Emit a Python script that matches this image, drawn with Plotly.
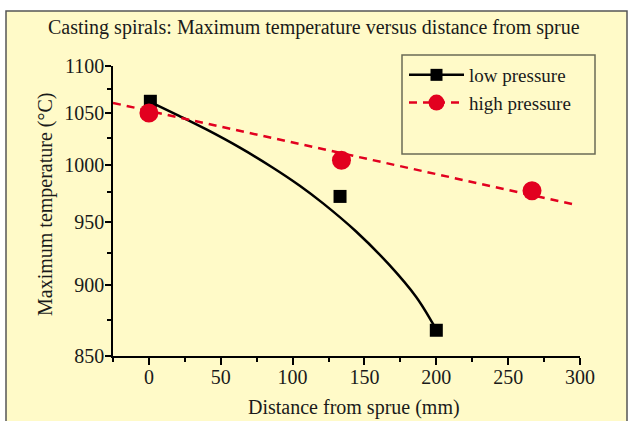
import plotly.graph_objects as go

# ---- data ----
low_x = [1, 133, 200]
low_T = [1062, 971.5, 867.5]
high_x = [0, 134, 266.6]
high_T = [1050, 1004, 976.5]

# fitted curve for low pressure
low_fit_x = [0, 21, 40, 63, 86, 105, 121, 144, 167, 186, 197, 200]
low_fit_T = [1062.0, 1047.1, 1033.5, 1016.1, 997.4, 980.9, 965.7, 942.1, 915.7, 891.2, 873.2, 867.8]
# fitted straight line for high pressure
high_fit_x = [-25, 295]
high_fit_T = [1060.3, 964.8]

y_major = [850, 900, 950, 1000, 1050, 1100]
y_minor = [875, 925, 975, 1025, 1075]
x_major = [0, 50, 100, 150, 200, 250, 300]
x_minor = [-25, 25, 75, 125, 175, 225, 275]

def ry(T):
    # reciprocal temperature scale of the original axis
    return [1000.0 / t for t in T]

RED = "#E2001F"
BG = "rgb(255,250,200)"
FONT = "Liberation Serif"
TXT = "#1a1a1a"
FS = 20

fig = go.Figure()
fig.add_trace(go.Scatter(x=low_fit_x, y=ry(low_fit_T), mode="lines", line=dict(color="black", width=2.5, shape="spline"),
                         showlegend=False, hoverinfo="skip"))
fig.add_trace(go.Scatter(x=high_fit_x, y=ry(high_fit_T), mode="lines", line=dict(color=RED, width=2.5, dash="8px,6px"),
                         showlegend=False, hoverinfo="skip"))
fig.add_trace(go.Scatter(x=low_x, y=ry(low_T), mode="markers", marker=dict(symbol="square", size=13, color="black"),
                         showlegend=False))
fig.add_trace(go.Scatter(x=high_x, y=ry(high_T), mode="markers", marker=dict(symbol="circle", size=19, color=RED),
                         showlegend=False))
# legend entries
fig.add_trace(go.Scatter(x=[None], y=[None], mode="lines+markers", name="low pressure",
                         line=dict(color="black", width=2.5), marker=dict(symbol="square", size=12, color="black")))
fig.add_trace(go.Scatter(x=[None], y=[None], mode="lines+markers", name="high pressure",
                         line=dict(color=RED, width=2.5, dash="8px,6px"), marker=dict(symbol="circle", size=16, color=RED)))

L, R, T, B = 113, 50, 66, 65
W, H = 630, 421
pw, ph = W - L - R, H - T - B

def px(xp):
    return (xp - L) / pw

def py(yp):
    return (H - B - yp) / ph

fig.update_layout(
    width=W, height=H,
    margin=dict(l=L, r=R, t=T, b=B),
    paper_bgcolor="white", plot_bgcolor="rgba(0,0,0,0)",
    font=dict(family=FONT, size=FS, color=TXT),
    showlegend=True,
    legend=dict(x=px(404), y=py(56), xanchor="left", yanchor="top", bgcolor="rgba(0,0,0,0)",
                borderwidth=0, font=dict(family=FONT, size=19, color=TXT), itemwidth=55,
                tracegroupgap=0),
    shapes=[
        dict(type="rect", xref="paper", yref="paper", x0=px(6), x1=px(627), y0=py(440), y1=py(11),
             fillcolor=BG, line=dict(color="#555555", width=1.5), layer="below"),
        dict(type="rect", xref="paper", yref="paper", x0=px(402), x1=px(595), y0=py(154), y1=py(55),
             fillcolor="rgba(0,0,0,0)", line=dict(color="#6b6b55", width=1.5), layer="above"),
    ],
    annotations=[
        dict(text="Casting spirals: Maximum temperature versus distance from sprue", xref="paper", yref="paper",
             x=px(314), y=py(27), xanchor="center", yanchor="middle", showarrow=False,
             font=dict(family=FONT, size=FS, color=TXT)),
        dict(text="Distance from sprue (mm)", xref="paper", yref="paper",
             x=px(354), y=py(407), xanchor="center", yanchor="middle", showarrow=False,
             font=dict(family=FONT, size=FS, color=TXT)),
        dict(text="Maximum temperature (°C)", xref="paper", yref="paper", textangle=-90,
             x=px(45), y=py(204), xanchor="center", yanchor="middle", showarrow=False,
             font=dict(family=FONT, size=FS, color=TXT)),
    ],
)

fig.update_xaxes(range=[-25, 300], showgrid=False, zeroline=False, showline=True, linecolor="black", linewidth=1.5,
                 ticks="outside", ticklen=7, tickwidth=1.5, tickcolor="black", tickmode="array",
                 tickvals=x_major, ticktext=[str(v) for v in x_major],
                 minor=dict(tickmode="array", tickvals=x_minor, ticks="outside", ticklen=4,
                            tickwidth=1.5, tickcolor="black", showgrid=False),
                 tickfont=dict(family=FONT, size=FS, color=TXT))
fig.update_yaxes(range=[1000.0 / 850, 1000.0 / 1100], showgrid=False, zeroline=False, showline=True, linecolor="black",
                 linewidth=1.5, ticks="outside", ticklen=6, tickwidth=1.5, tickcolor="black", tickmode="array",
                 tickvals=ry(y_major), ticktext=[str(v) for v in y_major],
                 minor=dict(tickmode="array", tickvals=ry(y_minor), ticks="outside", ticklen=4, tickwidth=1.5,
                            tickcolor="black", showgrid=False),
                 tickfont=dict(family=FONT, size=FS, color=TXT))
try:
    fig.update_xaxes(ticklabelstandoff=-5)
    fig.update_yaxes(ticklabelstandoff=-3)
except Exception:
    pass

fig.write_html("out.html")
